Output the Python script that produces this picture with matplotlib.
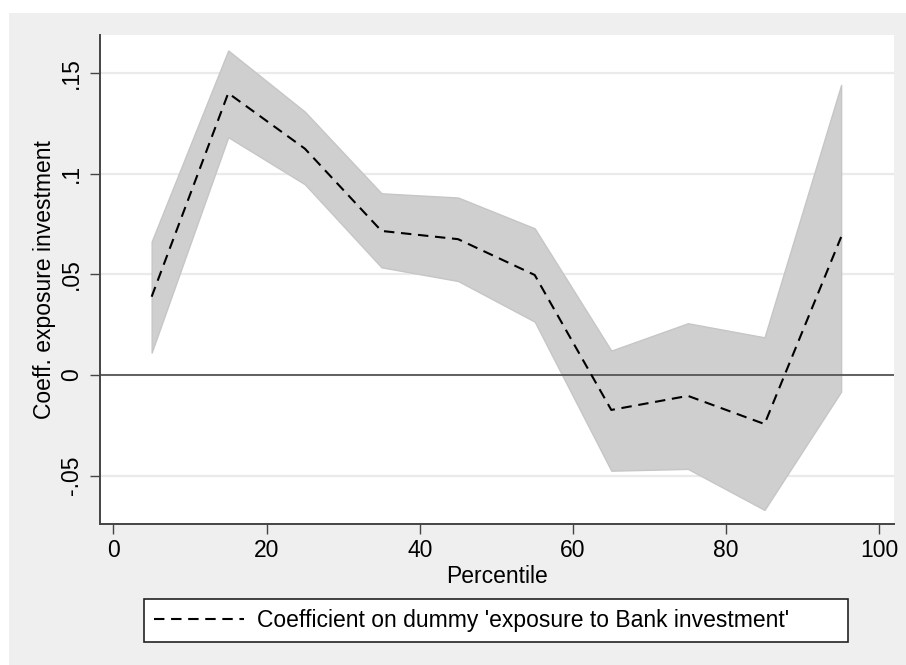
import matplotlib
matplotlib.use("Agg")
import matplotlib.pyplot as plt
from matplotlib.patches import Rectangle

plt.rcParams['font.family'] = ['Liberation Sans', 'DejaVu Sans']

# Data
percentile = [5, 15, 25, 35, 45, 55, 65, 75, 85, 95]
coef = [0.0389, 0.1401, 0.1125, 0.0716, 0.0675, 0.0497, -0.0174, -0.0104, -0.0244, 0.0686]
upper = [0.0663, 0.1613, 0.1309, 0.0903, 0.0882, 0.0729, 0.0121, 0.0257, 0.0187, 0.1442]
lower = [0.0111, 0.1182, 0.0948, 0.0535, 0.0467, 0.0265, -0.0476, -0.0467, -0.0671, -0.0083]
yticks = [-0.05, 0, 0.05, 0.10, 0.15]
yticklabels = ['-.05', '0', '.05', '.1', '.15']
xticks = [0, 20, 40, 60, 80, 100]
xticklabels = ['0', '20', '40', '60', '80', '100']
legend_label = "Coefficient on dummy 'exposure to Bank investment'"

FS = 16.5
W, H = 906, 665
fig = plt.figure(figsize=(W / 100, H / 100), dpi=100)
fig.patch.set_facecolor('white')
fig.patches.append(Rectangle((9 / W, 0), 1 - 9 / W, (H - 13) / H,
                             transform=fig.transFigure, facecolor='#EFEFEF',
                             edgecolor='none', zorder=-10))

ax = fig.add_axes([100 / W, 1 - 524 / H, 794 / W, 489 / H])
ax.set_facecolor('white')

ax.fill_between(percentile, lower, upper, facecolor='#CFCFCF',
                edgecolor='#C6C6C6', linewidth=1.0, zorder=2)
ax.plot(percentile, coef, color='black', linewidth=1.5,
        linestyle=(0, (5.0, 3.2)), label=legend_label, zorder=3)
ax.axhline(0, color='#555555', linewidth=1.3, zorder=2.5)

ax.set_xlim(-1.74, 101.9)
ax.set_ylim(-0.0741, 0.169)
ax.set_yticks(yticks)
ax.set_yticklabels(yticklabels, rotation=90, va='center')
ax.set_xticks(xticks)
ax.set_xticklabels(xticklabels)

ax.grid(axis='y', color='#EAEAEA', linewidth=1.6, zorder=0)
ax.set_axisbelow(True)

for s in ['top', 'right']:
    ax.spines[s].set_visible(False)
for s in ['left', 'bottom']:
    ax.spines[s].set_color('#444444')
    ax.spines[s].set_linewidth(1.4)

ax.tick_params(axis='both', direction='out', length=7, width=1.0,
               color='#444444', labelsize=FS, labelcolor='black')
ax.tick_params(axis='x', pad=4)
ax.tick_params(axis='y', pad=5)

ax.set_xlabel('Percentile', fontsize=FS, labelpad=2)
ax.set_ylabel('Coeff. exposure investment', fontsize=FS, labelpad=3)

leg = fig.legend(loc='center', bbox_to_anchor=(144 / W, 1 - 642 / H, 704 / W, 43 / H),
                 mode='expand', fontsize=FS, frameon=True, fancybox=False,
                 handlelength=3.9, handletextpad=0.6, borderpad=0.45,
                 borderaxespad=0.0)
frame = leg.get_frame()
frame.set_edgecolor('#222222')
frame.set_linewidth(1.2)
frame.set_facecolor('white')
frame.set_alpha(1)

fig.savefig('out.png', dpi=100, facecolor=fig.get_facecolor())
